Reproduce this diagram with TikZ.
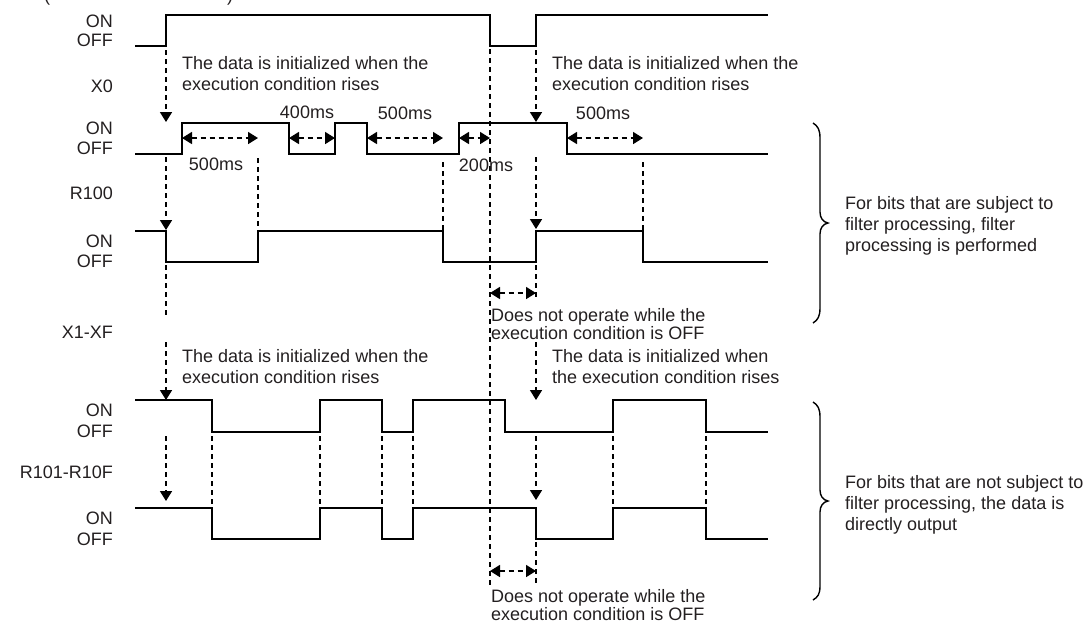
\documentclass[tikz,border=0pt]{standalone}
\usepackage{fontspec}
\setmainfont{Liberation Sans}
\usetikzlibrary{arrows.meta}
\definecolor{txt}{RGB}{35,31,32}
\begin{document}
\begin{tikzpicture}[x=1pt,y=-1pt,
  sig/.style={line width=1.8pt, line join=miter, line cap=rect},
  dsh/.style={line width=1.6pt, dash pattern=on 5pt off 4pt},
  darr/.style={dsh, -{Triangle[length=10pt,width=12pt]}},
  dbl/.style={dsh, {Triangle[length=10pt,width=12pt]}-{Triangle[length=10pt,width=12pt]}},
  fnt/.style={text=txt, font=\fontsize{18}{21}\selectfont},
  lbl/.style={fnt, inner sep=0pt, anchor=base east},
  ms/.style={fnt, inner sep=0pt, anchor=base},
  note/.style={fnt, inner sep=0pt, anchor=north west, align=left},
  notetight/.style={note, font=\fontsize{18}{18}\selectfont},
  brc/.style={line width=1.4pt},
]
\useasboundingbox (0,0) rectangle (1085,625);

% clipped heading fragments
\node[ms] (pl) at (47,1) {(};
\node[ms] (pr) at (230,1) {)};

% labels
\node[lbl] (on1) at (113,27) {ON};
\node[lbl] (off1) at (113,46) {OFF};
\node[lbl] (x0) at (113,92) {X0};
\node[lbl] (on2) at (113,134) {ON};
\node[lbl] (off2) at (113,154) {OFF};
\node[lbl] (r100) at (113,199) {R100};
\node[lbl] (on3) at (113,247) {ON};
\node[lbl] (off3) at (113,267) {OFF};
\node[lbl] (x1xf) at (113,338) {X1-XF};
\node[lbl] (on4) at (113,416) {ON};
\node[lbl] (off4) at (113,437) {OFF};
\node[lbl] (r101) at (113,478) {R101-R10F};
\node[lbl] (on5) at (113,524) {ON};
\node[lbl] (off5) at (113,545) {OFF};

% waveforms
\draw[sig] (136,46) -- (166,46) -- (166,15) -- (490,15) -- (490,46) -- (536,46) -- (536,15) -- (767,15);
\draw[sig] (136,154) -- (182,154) -- (182,123) -- (289,123) -- (289,154) -- (335,154) -- (335,123) -- (367,123) -- (367,154) -- (459,154) -- (459,123) -- (567,123) -- (567,154) -- (767,154);
\draw[sig] (136,231) -- (166,231) -- (166,262) -- (258,262) -- (258,231) -- (443,231) -- (443,262) -- (536,262) -- (536,231) -- (643,231) -- (643,262) -- (767,262);
\draw[sig] (136,400) -- (212,400) -- (212,432) -- (320,432) -- (320,400) -- (382,400) -- (382,432) -- (413,432) -- (413,400) -- (505,400) -- (505,432) -- (613,432) -- (613,400) -- (706,400) -- (706,432) -- (767,432);
\draw[sig] (136,508) -- (212,508) -- (212,539) -- (320,539) -- (320,508) -- (382,508) -- (382,539) -- (413,539) -- (413,508) -- (536,508) -- (536,539) -- (613,539) -- (613,508) -- (706,508) -- (706,539) -- (767,539);

% dashed verticals / arrows at x=166
\draw[darr] (166,50) -- (166,122);
\draw[darr] (166,157) -- (166,230);
\draw[dsh] (166,265) -- (166,318);
\draw[darr] (166,342) -- (166,400);
\draw[darr] (166,436) -- (166,501);
% x=536
\draw[darr] (536,50) -- (536,122);
\draw[darr] (536,157) -- (536,229);
\draw[dsh] (536,265) -- (536,300);
\draw[darr] (536,342) -- (536,400);
\draw[darr] (536,436) -- (536,500);
\draw[dsh] (536,542) -- (536,585);
% x=490
\draw[dsh] (490,49) -- (490,585);
% upper guides
\draw[dsh] (258,158) -- (258,231);
\draw[dsh] (443,162) -- (443,231);
\draw[dsh] (643,162) -- (643,231);
% lower guides
\foreach \gx in {212,320,382,413,613,706}
  \draw[dsh] (\gx,436) -- (\gx,508);

% durations
\draw[dbl] (182,138) -- (258,138);
\draw[dbl] (289,138) -- (335,138);
\draw[dbl] (367,138) -- (443,138);
\draw[dbl] (459,138) -- (490,138);
\draw[dbl] (567,138) -- (643,138);
\draw[dbl] (490,293) -- (536,293);
\draw[dbl] (490,571) -- (536,571);

\node[ms] (m1) at (216,170) {500ms};
\node[ms] (m2) at (307,118) {400ms};
\node[ms] (m3) at (405,119) {500ms};
\node[ms] (m4) at (486,171) {200ms};
\node[ms] (m5) at (603,119) {500ms};

% notes
\node[note] (n1) at (182,56) {The data is initialized when the\\execution condition rises};
\node[note] (n2) at (552,56) {The data is initialized when the\\execution condition rises};
\node[note] (n3) at (182,349) {The data is initialized when the\\execution condition rises};
\node[note] (n4) at (552,349) {The data is initialized when\\the execution condition rises};
\node[notetight] (n5) at (491,308) {Does not operate while the\\execution condition is OFF};
\node[notetight] (n6) at (491,589) {Does not operate while the\\execution condition is OFF};

% braces
\draw[brc] (813,123) .. controls (818,126) and (820,130) .. (820,138) -- (820,212) .. controls (820,218) and (823,222) .. (828,223) .. controls (823,224) and (820,228) .. (820,234) -- (820,308) .. controls (820,316) and (818,320) .. (813,323);
\draw[brc] (813,402) .. controls (818,405) and (820,409) .. (820,417) -- (820,490) .. controls (820,496) and (823,500) .. (828,501) .. controls (823,502) and (820,506) .. (820,512) -- (820,586) .. controls (820,594) and (818,597) .. (813,600);
\node[note] (b1) at (845,196) {For bits that are subject to\\filter processing, filter\\processing is performed};
\node[note] (b2) at (845,475) {For bits that are not subject to\\filter processing, the data is\\directly output};
\end{tikzpicture}
\end{document}
